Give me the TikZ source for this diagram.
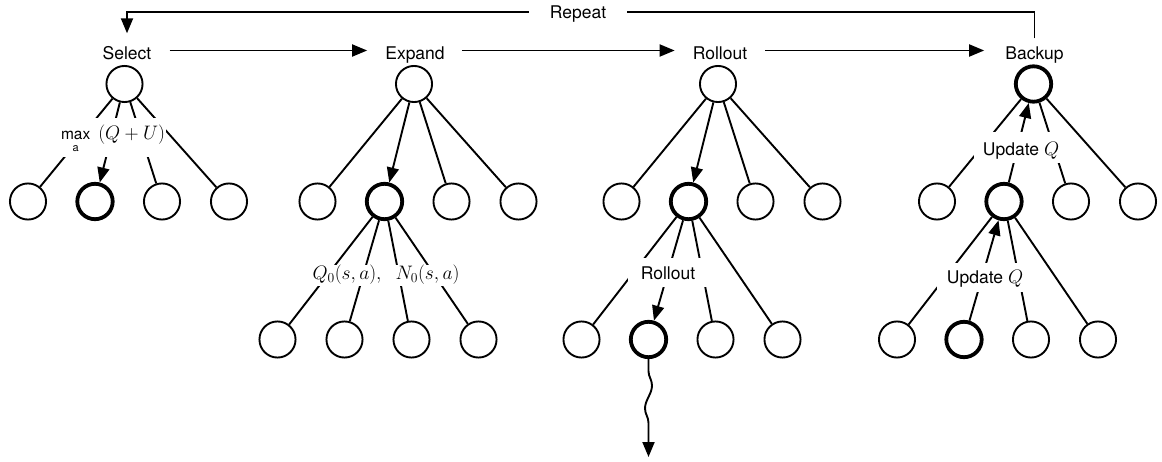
\RequirePackage{fix-cm}
\documentclass[tikz,border=0pt]{standalone}
\usepackage{amsmath}
\usepackage[no-math]{fontspec}
\setmainfont{TeX Gyre Heros}
\usetikzlibrary{arrows.meta,decorations.pathmorphing}
\newcommand{\mth}[1]{{\fontsize{19.5}{23}\selectfont$#1$}}

\begin{document}
\begin{tikzpicture}[x=1pt,y=-1pt,
  every node/.style={font=\fontsize{17.5}{21}\selectfont},
  circ/.style={circle,draw,line width=1.9pt,minimum size=36.1pt,inner sep=0pt},
  boldc/.style={circ,line width=3.8pt,minimum size=35.4pt},
  edge/.style={line width=1.9pt},
  arr/.style={edge,-{Triangle[length=15pt,width=12pt]}},
  toplab/.style={anchor=base,inner sep=0pt,text height=12.8pt,text depth=3.6pt},
  lab/.style={anchor=base,fill=white,inner ysep=0pt}]
\useasboundingbox (0,0) rectangle (1162,462);

% ---------- top labels ----------
\node[toplab] (sel) at (127,59.3) {Select};
\node[toplab] (exp) at (415,59.3) {Expand};
\node[toplab] (rol) at (720,59.3) {Rollout};
\node[toplab] (bak) at (1034.5,59.3) {Backup};
\node[fill=white,inner xsep=21pt,inner ysep=0pt,text height=12.6pt,text depth=0pt] (rep) at (578,12.3) {Repeat};

\draw[arr] ([xshift=18pt,yshift=8.8pt]sel.base east) -- ([xshift=-18pt,yshift=8.8pt]exp.base west);
\draw[arr] ([xshift=17pt,yshift=8.8pt]exp.base east) -- ([xshift=-18pt,yshift=8.8pt]rol.base west);
\draw[arr] ([xshift=18pt,yshift=8.8pt]rol.base east) -- ([xshift=-21pt,yshift=8.8pt]bak.base west);
\draw[edge] ([yshift=8pt]bak.north) |- (rep.east);
\draw[arr] (rep.west) -| ([yshift=13pt]sel.north);

% ---------- Select tree ----------
\node[circ] (s0) at (124.5,84) {};
\node[circ] (s1) at (28,201.5) {};
\node[boldc] (s2) at (95,201.5) {};
\node[circ] (s3) at (162,201.5) {};
\node[circ] (s4) at (229,201.5) {};
\draw[edge] (s0) -- (s1);
\draw[arr] (s0) -- (s2);
\draw[edge] (s0) -- (s3);
\draw[edge] (s0) -- (s4);
\node[lab,inner xsep=1pt,text height=22pt,text depth=17pt] (slab) at (113,140)
  {\fontsize{15.5}{17.5}\selectfont\begin{tabular}[t]{@{}c@{}}max\\[-5.5pt]\fontsize{11}{11}\selectfont a\end{tabular}\hspace{8pt}\mth{(Q+U)}};

% ---------- Expand tree ----------
\node[circ] (e0) at (414,84) {};
\node[circ] (e1) at (317.5,201.5) {};
\node[boldc] (e2) at (384.5,201.5) {};
\node[circ] (e3) at (451.5,201.5) {};
\node[circ] (e4) at (518.5,201.5) {};
\node[circ] (eg1) at (277.5,339.5) {};
\node[circ] (eg2) at (344.5,339.5) {};
\node[circ] (eg3) at (411.5,339.5) {};
\node[circ] (eg4) at (478.5,339.5) {};
\draw[edge] (e0) -- (e1);
\draw[arr] (e0) -- (e2);
\draw[edge] (e0) -- (e3);
\draw[edge] (e0) -- (e4);
\draw[edge] (e2) -- (eg1);
\draw[edge] (e2) -- (eg2);
\draw[edge] (e2) -- (eg3);
\draw[edge] (e2) -- (eg4);
\node[lab,inner xsep=2pt,text height=15pt,text depth=6pt] (elab) at (386,280)
  {\mth{Q_0(s,a),\ \;N_0(s,a)}};

% ---------- Rollout tree ----------
\node[circ] (r0) at (718,84) {};
\node[circ] (r1) at (621.5,201.5) {};
\node[boldc] (r2) at (688.5,201.5) {};
\node[circ] (r3) at (755.5,201.5) {};
\node[circ] (r4) at (822.5,201.5) {};
\node[circ] (rg1) at (581.5,339.5) {};
\node[boldc] (rg2) at (648.5,339.5) {};
\node[circ] (rg3) at (715.5,339.5) {};
\node[circ] (rg4) at (782.5,339.5) {};
\coordinate (rend) at (648.5,457);
\draw[edge] (r0) -- (r1);
\draw[arr] (r0) -- (r2);
\draw[edge] (r0) -- (r3);
\draw[edge] (r0) -- (r4);
\draw[edge] (r2) -- (rg1);
\draw[arr] (r2) -- (rg2);
\draw[edge] (r2) -- (rg3);
\draw[edge] (r2) -- (rg4);
\node[lab,inner xsep=12.7pt,text height=21.7pt,text depth=6.7pt] (rlab) at (668,280) {Rollout};
\draw[arr,decorate,decoration={snake,amplitude=3.5pt,segment length=46pt,pre length=12pt,post length=17pt}] (rg2.south) -- (rend);

% ---------- Backup tree ----------
\node[boldc] (b0) at (1033.5,84) {};
\node[circ] (b1) at (937,201.5) {};
\node[boldc] (b2) at (1004,201.5) {};
\node[circ] (b3) at (1071,201.5) {};
\node[circ] (b4) at (1138,201.5) {};
\node[circ] (bg1) at (897,339.5) {};
\node[boldc] (bg2) at (964,339.5) {};
\node[circ] (bg3) at (1031,339.5) {};
\node[circ] (bg4) at (1098,339.5) {};
\draw[edge] (b0) -- (b1);
\draw[arr] (b2) -- (b0);
\draw[edge] (b0) -- (b3);
\draw[edge] (b0) -- (b4);
\draw[edge] (b2) -- (bg1);
\draw[arr] (bg2) -- (b2);
\draw[edge] (b2) -- (bg3);
\draw[edge] (b2) -- (bg4);
\node[lab,inner xsep=9pt,text height=24.3pt,text depth=7.3pt] (blab1) at (1021,156) {Update \mth{Q}};
\node[lab,inner xsep=10pt,text height=20pt,text depth=8.7pt] (blab2) at (985,283.3) {Update \mth{Q}};
\end{tikzpicture}
\end{document}
